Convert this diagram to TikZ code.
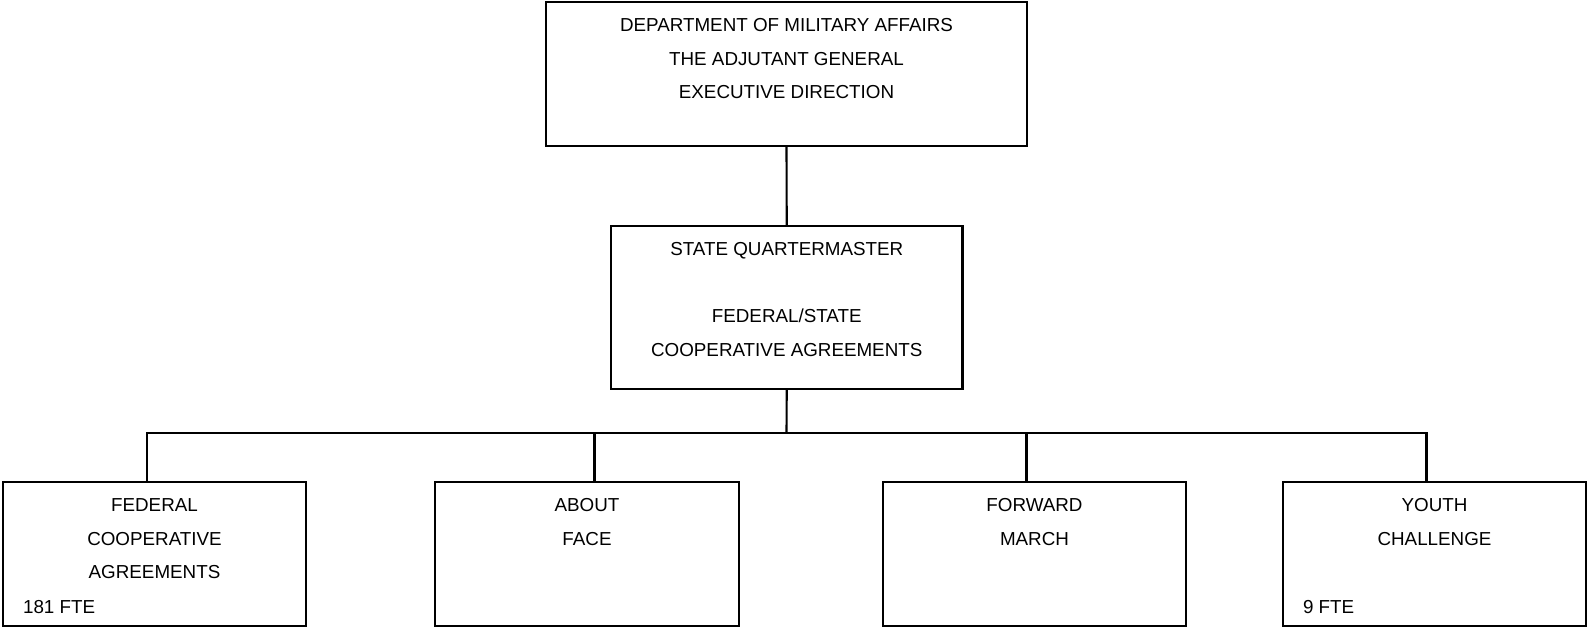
\documentclass[tikz,border=0pt]{standalone}
\usepackage{fontspec}
\setmainfont{Liberation Sans}
\usetikzlibrary{positioning}

\begin{document}
\begin{tikzpicture}[
  unit/.style={draw, line width=1.2pt, inner sep=0pt},
  unittext/.style={inner sep=0pt, align=center, font=\fontsize{10.7}{19}\selectfont},
  fte/.style={inner sep=0pt, font=\fontsize{10.7}{19}\selectfont},
  link/.style={line width=1.2pt}]
\useasboundingbox (0,0) rectangle (31.74,-12.54);

\node[unit, minimum width=9.62cm, minimum height=2.88cm] (dma) at (15.73,-1.48) {};
\node[unittext, below=0.35cm of dma.north] (dmatext) {DEPARTMENT OF MILITARY AFFAIRS\\THE ADJUTANT GENERAL\\EXECUTIVE DIRECTION};

\node[unit, minimum width=7.03cm, minimum height=3.26cm] (qm) at (15.735,-6.15) {};
\node[unittext, below=0.35cm of qm.north] (qmtext) {STATE QUARTERMASTER\\[19pt]FEDERAL/STATE\\COOPERATIVE AGREEMENTS};

\node[unit, minimum width=6.07cm, minimum height=2.88cm] (fca) at (3.09,-11.08) {};
\node[unit, minimum width=6.07cm, minimum height=2.88cm] (about) at (11.74,-11.08) {};
\node[unit, minimum width=6.07cm, minimum height=2.88cm] (march) at (20.69,-11.08) {};
\node[unit, minimum width=6.07cm, minimum height=2.88cm] (youth) at (28.69,-11.08) {};

\node[unittext, below=0.35cm of fca.north] (fcatext) {FEDERAL\\COOPERATIVE\\AGREEMENTS};
\node[unittext, below=0.35cm of about.north] (abouttext) {ABOUT\\FACE};
\node[unittext, below=0.35cm of march.north] (marchtext) {FORWARD\\MARCH};
\node[unittext, below=0.35cm of youth.north] (youthtext) {YOUTH\\CHALLENGE};
\node[fte, above right=0.27cm and 0.42cm of fca.south west] (fcafte) {181 FTE};
\node[fte, above right=0.27cm and 0.42cm of youth.south west] (youthfte) {9 FTE};

\coordinate (bus) at (15.73,-8.66);
\coordinate (busfca) at (2.94,-8.66);
\coordinate (busabout) at (11.89,-8.66);
\coordinate (busmarch) at (20.53,-8.66);
\coordinate (busyouth) at (28.53,-8.66);

\draw[link] (dma.south) -- (qm.north);
\draw[link] (qm.south) -- (bus);
\draw[link] (fca.north -| busfca) -- (busfca) -- (busyouth) -- (youth.north -| busyouth);
\draw[link] (busabout) -- (about.north -| busabout);
\draw[link] (busmarch) -- (march.north -| busmarch);

\end{tikzpicture}
\end{document}
